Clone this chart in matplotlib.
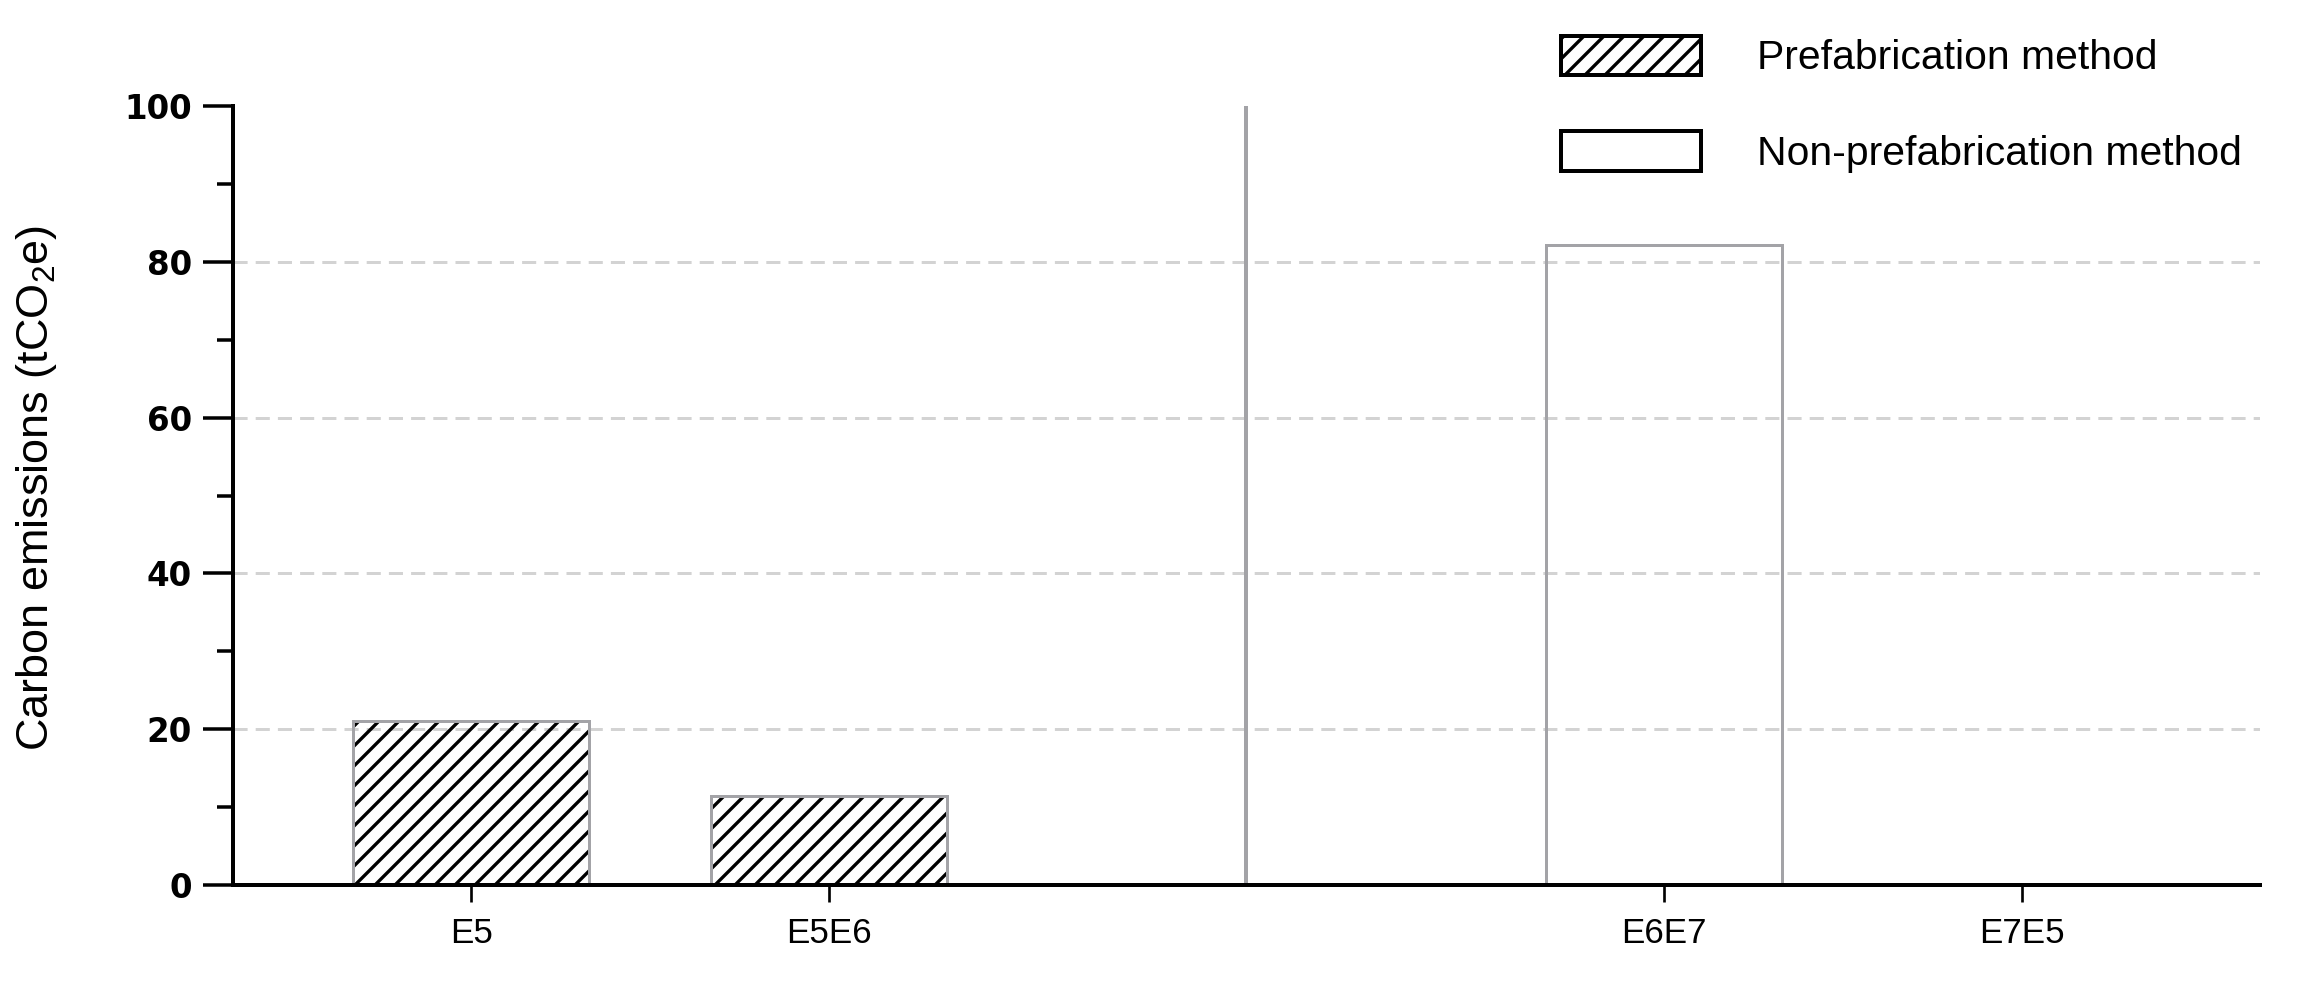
import numpy as np
import matplotlib
matplotlib.use('Agg')
import matplotlib.pyplot as plt
from matplotlib.patches import Patch

# values
categories = ['E5', 'E5E6', 'E6E7', 'E7E5']
prefab = [21.0, 11.4, 0, 0]        # Prefabrication method
non_prefab = [0, 0, 82.1, 0]       # Non-prefabrication method
y_ticks = [0, 20, 40, 60, 80, 100]

plt.rcParams['hatch.linewidth'] = 2.0
plt.rcParams['mathtext.fontset'] = 'custom'
plt.rcParams['mathtext.rm'] = 'Liberation Sans'
plt.rcParams['mathtext.it'] = 'Liberation Sans'

DPI = 120
fig = plt.figure(figsize=(2313 / DPI, 991 / DPI), dpi=DPI)
ax = fig.add_axes([0.1007, 0.1070, 0.9771 - 0.1007, 0.8930 - 0.1070])

# two groups of two bars with a wider gap in between (Prism style)
gap = 4 / 3
idx = np.arange(len(categories))
x = idx + np.where(idx >= 2, gap, 0)
width = 0.66
grey = '#a3a3a7'

# hatched fill (black hatch) then grey outline on top
ax.bar(x, prefab, width, facecolor='none', edgecolor='black', hatch='//', linewidth=0, zorder=2)
ax.bar(x, prefab, width, fill=False, edgecolor=grey, linewidth=1.8, zorder=2.1)
ax.bar(x, non_prefab, width, fill=False, edgecolor=grey, linewidth=1.8, zorder=2.1)

# separator between the two groups
ax.axvline((x[1] + x[2]) / 2, ymin=0, ymax=1, color=grey, linewidth=2.4, zorder=2)

ax.set_xlim(-2 / 3, 5.0)
ax.set_ylim(0, 100)
ax.set_xticks(x)
ax.set_xticklabels(categories, family='Liberation Sans', fontsize=21)
ax.set_yticks(y_ticks)
ax.set_yticks(np.arange(10, 100, 20), minor=True)
ax.set_yticklabels([str(v) for v in y_ticks], family='DejaVu Sans', fontweight='bold', fontsize=19.5)

ax.tick_params(axis='y', which='major', length=18, width=2.1, pad=6.5, color='black')
ax.tick_params(axis='y', which='minor', length=9.6, width=2.1, color='black')
ax.tick_params(axis='x', which='major', length=10.2, width=1.6, pad=9, color='black')

for s in ['top', 'right']:
    ax.spines[s].set_visible(False)
for s in ['left', 'bottom']:
    ax.spines[s].set_linewidth(2.4)
    ax.spines[s].set_color('black')

# dashed horizontal grid (not at 0 / 100)
for v in y_ticks[1:-1]:
    ax.axhline(v, color='#d3d3d3', linewidth=1.8, linestyle=(0, (4.7, 2.7)), zorder=0.5)

ax.set_ylabel('Carbon emissions (tCO$_2$e)', family='Liberation Sans', fontsize=27)
ax.yaxis.set_label_coords(-0.0858, 0.51)

handles = [
    Patch(facecolor='white', edgecolor='black', hatch='//', linewidth=2.4, label='Prefabrication method'),
    Patch(facecolor='white', edgecolor='black', linewidth=2.4, label='Non-prefabrication method'),
]
fig.legend(handles=handles, loc='upper left', bbox_to_anchor=(1561 / 2313, 1 - 36 / 991),
           frameon=False, borderpad=0, borderaxespad=0,
           prop={'family': 'Liberation Sans', 'size': 24.5},
           handlelength=3.43, handleheight=1.1, handletextpad=1.37, labelspacing=1.32)

fig.savefig('out.png', dpi=DPI, facecolor='white')
